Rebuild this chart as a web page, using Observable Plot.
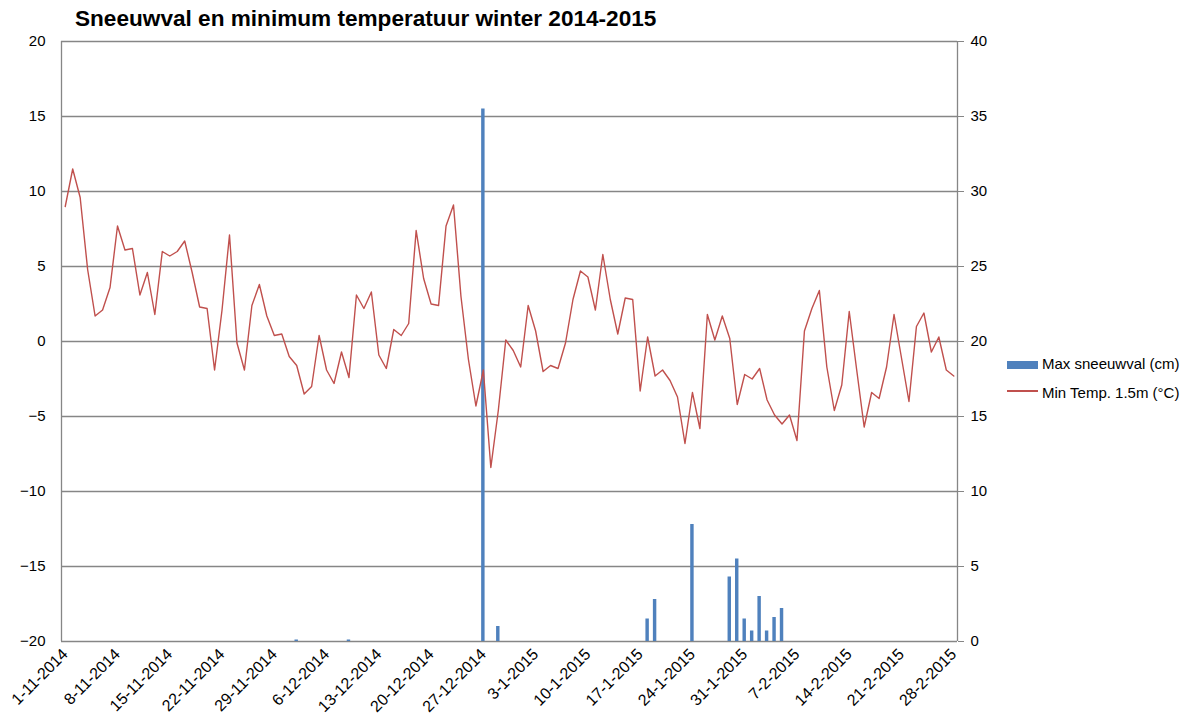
<!DOCTYPE html>
<html>
<head>
<meta charset="utf-8">
<script src="https://cdn.jsdelivr.net/npm/d3@7"></script>
<script src="https://cdn.jsdelivr.net/npm/@observablehq/plot@0.6"></script>
<style>
  html, body { margin: 0; padding: 0; background: #fff; }
  body { font-family: "Liberation Sans", Arial, sans-serif; }
  #wrap { position: relative; width: 1193px; height: 719px; overflow: hidden; }
  #title { position: absolute; left: 75px; top: 6px; font-size: 22.6px; font-weight: bold; color: #000; white-space: nowrap; }
  .leg { position: absolute; font-size: 15px; color: #000; white-space: nowrap; }
  .sw { position: absolute; }
</style>
</head>
<body>
<div id="wrap">
  <div id="chart"></div>
  <div id="title">Sneeuwval en minimum temperatuur winter 2014-2015</div>
  <div class="sw" style="left:1007px; top:361px; width:31px; height:8px; background:#4F81BD;"></div>
  <div class="leg" style="left:1042px; top:355px;">Max sneeuwval (cm)</div>
  <div class="sw" style="left:1007px; top:390px; width:31px; height:1.5px; background:#C0504D;"></div>
  <div class="leg" style="left:1042px; top:384px;">Min Temp. 1.5m (°C)</div>
</div>
<script>
// ---- data ----
const startDay = "1-11-2014";
const tickLabels = ["1-11-2014","8-11-2014","15-11-2014","22-11-2014","29-11-2014","6-12-2014","13-12-2014","20-12-2014","27-12-2014","3-1-2015","10-1-2015","17-1-2015","24-1-2015","31-1-2015","7-2-2015","14-2-2015","21-2-2015","28-2-2015"];
const minTemp = [
  9.0, 11.5, 9.6, 4.8, 1.7, 2.1, 3.6, 7.7, 6.1, 6.2,
  3.1, 4.6, 1.8, 6.0, 5.7, 6.0, 6.7, 4.6, 2.3, 2.2,
  -1.9, 2.1, 7.1, -0.1, -1.9, 2.4, 3.8, 1.7, 0.4, 0.5,
  -1.0, -1.6, -3.5, -3.0, 0.4, -1.9, -2.8, -0.7, -2.4, 3.1,
  2.2, 3.3, -0.9, -1.8, 0.8, 0.4, 1.2, 7.4, 4.2, 2.5,
  2.4, 7.7, 9.1, 3.0, -1.2, -4.3, -1.9, -8.4, -4.6, 0.1,
  -0.6, -1.7, 2.4, 0.7, -2.0, -1.6, -1.8, -0.1, 2.8, 4.7,
  4.3, 2.1, 5.8, 2.8, 0.5, 2.9, 2.8, -3.3, 0.3, -2.3,
  -1.9, -2.6, -3.7, -6.8, -3.4, -5.8, 1.8, 0.1, 1.7, 0.2,
  -4.2, -2.2, -2.5, -1.8, -3.9, -4.9, -5.5, -4.9, -6.6, 0.7,
  2.2, 3.4, -1.7, -4.6, -2.9, 2.0, -1.9, -5.7, -3.4, -3.8,
  -1.7, 1.8, -1.1, -4.0, 1.0, 1.9, -0.7, 0.3, -1.9, -2.3
];
const snowDates = ["2-12-2014","9-12-2014","27-12-2014","29-12-2014","18-1-2015","19-1-2015","24-1-2015","29-1-2015","30-1-2015","31-1-2015","1-2-2015","2-2-2015","3-2-2015","4-2-2015","5-2-2015"];
const snowCm = [0.1, 0.1, 35.5, 1.0, 1.5, 2.8, 7.8, 4.3, 5.5, 1.5, 0.7, 3.0, 0.7, 1.6, 2.2];
const tempTicks = [-20, -15, -10, -5, 0, 5, 10, 15, 20];

// ---- helpers ----
const DAY = 86400000;
function parseD(s) { const [d, m, y] = s.split("-").map(Number); return new Date(Date.UTC(y, m - 1, d)); }
function fmtD(dt) { return `${dt.getUTCDate()}-${dt.getUTCMonth() + 1}-${dt.getUTCFullYear()}`; }
const t0 = parseD(startDay);
const tempData = minTemp.map((v, i) => ({ date: new Date(t0.getTime() + i * DAY), t: v }));
const snowData = snowDates.map((s, i) => ({ date: parseD(s), cm: snowCm[i] }));
const tickDates = tickLabels.map(parseD);
const x0 = new Date(t0.getTime() - DAY / 2);
const x1 = new Date(tempData[tempData.length - 1].date.getTime() + DAY / 2);
const halfBar = 0.23 * DAY;
// snow (right axis 0..40) shares pixels with temperature (-20..20): cm -> cm - 20
const snowOffset = 20;

const chart = Plot.plot({
  width: 1193,
  height: 719,
  marginLeft: 61,
  marginRight: 236,
  marginTop: 41,
  marginBottom: 78,
  style: { fontFamily: "'Liberation Sans', Arial, sans-serif", fontSize: "15px", color: "#000", background: "#fff" },
  x: { type: "utc", domain: [x0, x1] },
  y: { domain: [-20, 20] },
  marks: [
    Plot.gridY(tempTicks, { stroke: "#868686", strokeOpacity: 1, strokeWidth: 1.3 }),
    Plot.ruleX([x0, x1], { stroke: "#868686", strokeWidth: 1.3 }),
    Plot.rectY(snowData, {
      x1: d => new Date(d.date.getTime() - halfBar),
      x2: d => new Date(d.date.getTime() + halfBar),
      y1: -snowOffset,
      y2: d => d.cm - snowOffset,
      fill: "#4F81BD"
    }),
    Plot.lineY(tempData, { x: "date", y: "t", stroke: "#C0504D", strokeWidth: 1.4 }),
    Plot.axisY(tempTicks, { anchor: "left", tickSize: 0, tickPadding: 16, fontSize: 15, label: null }),
    Plot.axisY(tempTicks, { anchor: "right", tickSize: 6, stroke: "#868686", tickPadding: 7, fontSize: 15, tickFormat: d => d + snowOffset, label: null }),
    Plot.axisX(tickDates, { tickSize: 0, tickPadding: 10, tickRotate: -45, tickFormat: fmtD, fontSize: 16, label: null })
  ]
});
document.getElementById("chart").appendChild(chart);
</script>
</body>
</html>
